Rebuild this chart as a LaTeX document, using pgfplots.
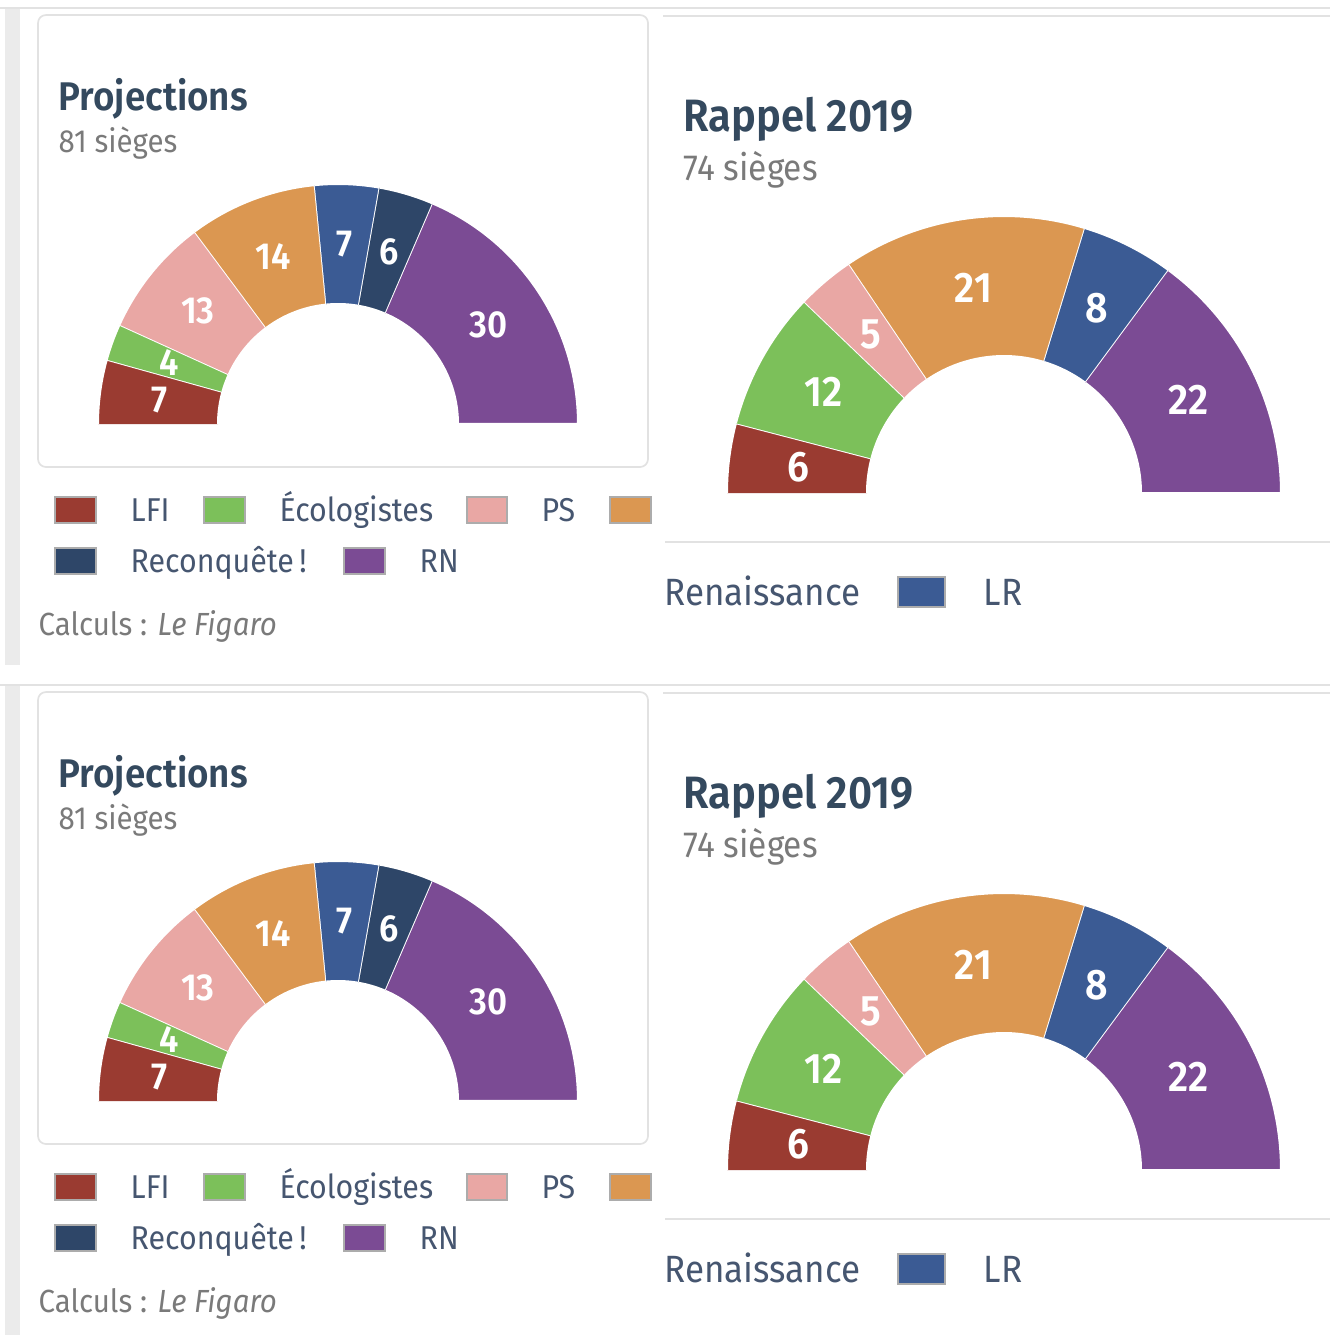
\documentclass[border=0pt]{standalone}
\usepackage{pgfplots}
\pgfplotsset{compat=1.18}
\usepackage{fontspec}
\setmainfont{Fira Sans}[BoldFont={Fira Sans SemiBold}, FakeStretch=0.92]

\definecolor{lfi}{HTML}{9A3B31}
\definecolor{eco}{HTML}{7CC05A}
\definecolor{ps}{HTML}{E9A7A4}
\definecolor{ren}{HTML}{DB9751}
\definecolor{lr}{HTML}{3B5B94}
\definecolor{rec}{HTML}{2E4668}
\definecolor{rn}{HTML}{7B4B94}
\definecolor{titlec}{HTML}{34495E}
\definecolor{subc}{HTML}{7A7A7A}
\definecolor{legc}{HTML}{465670}
\definecolor{stripc}{HTML}{EBEBEB}
\definecolor{linec}{HTML}{E2E2E2}

\newcommand\fs[1]{\fontsize{#1}{#1}\selectfont}
\tikzset{
  lblL/.style={text=white, font=\fs{11.3pt}\bfseries, inner sep=0pt},
  lblR/.style={text=white, font=\fs{12.8pt}\bfseries, inner sep=0pt},
  sw/.style={draw=gray!65, line width=0.4pt},
}

% one wedge: seats from #1 to #2 of total #3, outer radius #4, inner radius #5, colour #6
\newcommand\wedgeplot[6]{%
  \addplot[fill=#6, draw=white, line width=0.6pt, domain=0:2, samples=101, variable=\t]
   ({ (\t<=1.01 ? #4 : #5)*cos(180-180/#3*(\t<=1.01 ? #1+(#2-#1)*min(\t,1) : #2-(#2-#1)*max(\t-1.02,0)/0.98)) },
    { (\t<=1.01 ? #4 : #5)*sin(180-180/#3*(\t<=1.01 ? #1+(#2-#1)*min(\t,1) : #2-(#2-#1)*max(\t-1.02,0)/0.98)) });
}
\newcommand\wlabel[4]{\node[#1] at (axis cs:#2,#3) {#4};}
\newcommand\hemisetup[4]{\xdef\hT{#1}\xdef\hR{#2}\xdef\hr{#3}\xdef\hL{#4}\xdef\cum{0}}
% one party: #1 seats, #2 colour
\newcommand\seg[2]{%
  \pgfmathsetmacro\nxt{\cum+#1}%
  \pgfmathsetmacro\ang{180-90*(\cum+\nxt)/\hT}%
  \pgfmathsetmacro\lx{(\hR+\hr)/2*cos(\ang)}%
  \pgfmathsetmacro\ly{(\hR+\hr)/2*sin(\ang)}%
  \edef\tmp{\noexpand\wedgeplot{\cum}{\nxt}{\hT}{\hR}{\hr}{#2}\noexpand\wlabel{\hL}{\lx}{\ly}{#1}}%
  \tmp
  \xdef\cum{\nxt}%
}

\newcommand\panel[1]{%
  % frame
  \fill[stripc] (5,{8+#1}) rectangle (20,{665+#1});
  \draw[linec, line width=0.5pt] (0,{8+#1}) -- (1330,{8+#1});
  \draw[linec, line width=0.5pt, rounded corners=2.4pt] (38,{15+#1}) rectangle (648,{467+#1});
  \draw[linec, line width=0.5pt] (663,{16+#1}) -- (1330,{16+#1});
  \draw[linec, line width=0.5pt] (665,{542+#1}) -- (1330,{542+#1});
  % titles
  \node[anchor=base west, inner sep=0pt, text=titlec, font=\fs{12pt}\bfseries] at (58,{110+#1}) {Projections};
  \node[anchor=base west, inner sep=0pt, text=subc, font=\fs{9.6pt}] at (58,{152+#1}) {81 sièges};
  \node[anchor=base west, inner sep=0pt, text=titlec, font=\fs{13.6pt}\bfseries] at (683,{131+#1}) {Rappel 2019};
  \node[anchor=base west, inner sep=0pt, text=subc, font=\fs{10.9pt}] at (683,{180+#1}) {74 sièges};
  % hemicycles
  \begin{axis}[at={({338*0.3pt},{-(424+#1)*0.3pt})}, anchor=south, scale only axis,
      width=144pt, height=72pt, xmin=-240, xmax=240, ymin=0, ymax=240, hide axis, clip=false]
    \hemisetup{81}{240}{120}{lblL}
    \seg{7}{lfi}\seg{4}{eco}\seg{13}{ps}\seg{14}{ren}\seg{7}{lr}\seg{6}{rec}\seg{30}{rn}
  \end{axis}
  \begin{axis}[at={({1004*0.3pt},{-(493+#1)*0.3pt})}, anchor=south, scale only axis,
      width=166.2pt, height=83.1pt, xmin=-277, xmax=277, ymin=0, ymax=277, hide axis, clip=false]
    \hemisetup{74}{277}{137}{lblR}
    \seg{6}{lfi}\seg{12}{eco}\seg{5}{ps}\seg{21}{ren}\seg{8}{lr}\seg{22}{rn}
  \end{axis}
  % legend
  \begin{scope}[every node/.style={anchor=base west, inner sep=0pt, text=legc, font=\fs{9.9pt}}]
    \filldraw[sw, fill=lfi] (55,{497+#1}) rectangle (96,{523+#1});
    \node at (130,{521+#1}) {LFI};
    \filldraw[sw, fill=eco] (204,{497+#1}) rectangle (245,{523+#1});
    \node at (279,{521+#1}) {Écologistes};
    \filldraw[sw, fill=ps] (467,{497+#1}) rectangle (507,{523+#1});
    \node at (541,{521+#1}) {PS};
    \filldraw[sw, fill=ren] (610,{497+#1}) rectangle (651,{523+#1});
    \filldraw[sw, fill=rec] (55,{548+#1}) rectangle (96,{574+#1});
    \node at (130,{572+#1}) {Reconquête\,!};
    \filldraw[sw, fill=rn] (344,{548+#1}) rectangle (385,{574+#1});
    \node at (419,{572+#1}) {RN};
    \node[text=subc, font=\fs{9.6pt}] at (38,{635+#1}) {Calculs~: \textit{Le Figaro}};
    \node[font=\fs{11.4pt}] at (664,{605+#1}) {Renaissance};
    \filldraw[sw, fill=lr] (898,{577+#1}) rectangle (945,{607+#1});
    \node[font=\fs{11.4pt}] at (983,{605+#1}) {LR};
  \end{scope}
}

\begin{document}
\begin{tikzpicture}
\begin{scope}[x=0.3pt,y=-0.3pt]
  \useasboundingbox (0,0) rectangle (1330,1335);
  \clip (0,0) rectangle (1330,1335);
  \fill[white] (0,0) rectangle (1330,1335);
  \panel{0}
  \panel{677}
\end{scope}
\end{tikzpicture}
\end{document}
